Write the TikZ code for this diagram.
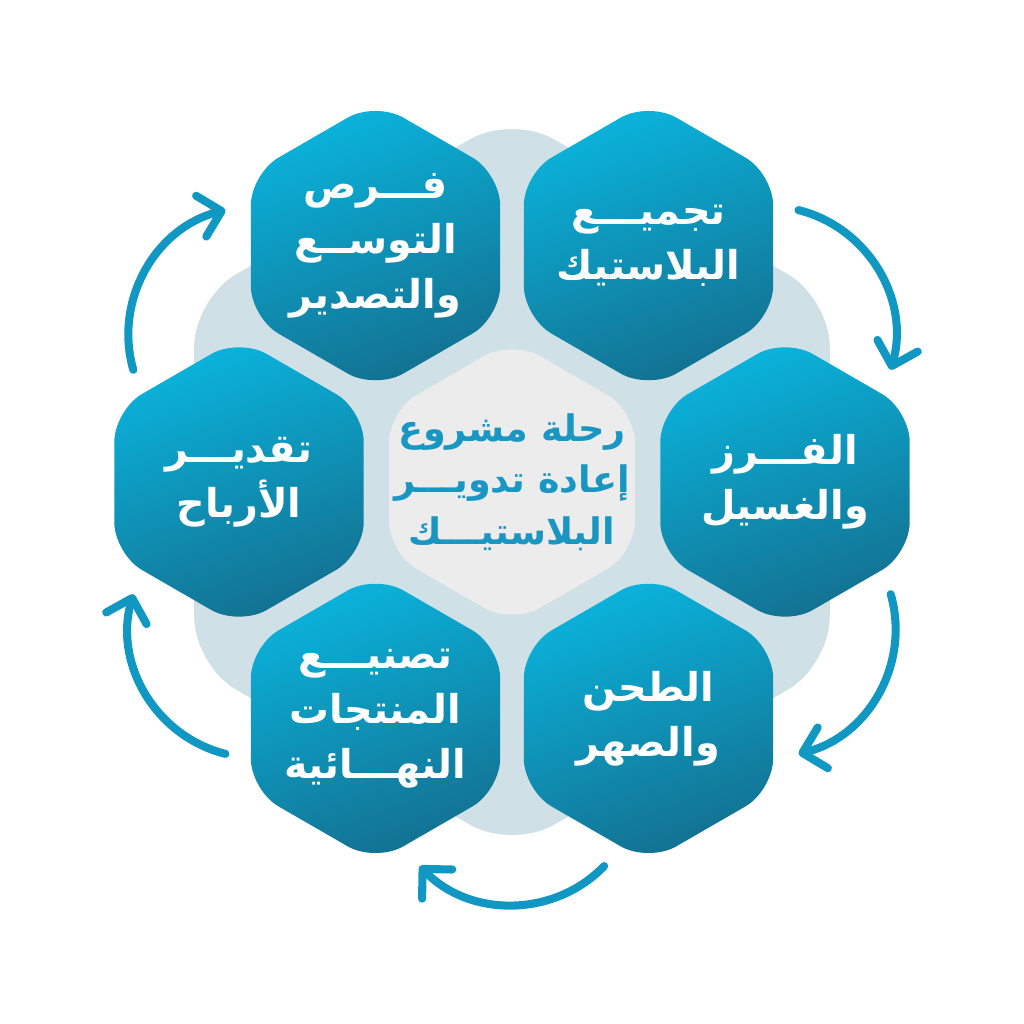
\documentclass[tikz,border=0pt]{standalone}
\usepackage{fontspec}
\usepackage{tikz}
\usetikzlibrary{shapes.geometric, arrows.meta, calc}
\TeXXeTstate=1
\newfontfamily\arabicfont[Script=Arabic]{DejaVu Sans}
\newcommand{\artext}[1]{\beginR #1\endR}

\definecolor{back-color}{RGB}{207,225,231}
\definecolor{core-color}{RGB}{236,236,237}
\definecolor{hex-top}{RGB}{10,180,221}
\definecolor{hex-bottom}{RGB}{19,112,144}
\definecolor{core-text}{RGB}{26,150,194}
\definecolor{flow-color}{RGB}{17,152,194}

\tikzset{
    hexbase/.style = {regular polygon, regular polygon sides=6, shape border rotate=30,
        inner sep=0pt, minimum size=#1, rounded corners=3.2mm},
    hexstep/.style = {hexbase=2.88cm, top color=hex-top, bottom color=hex-bottom, shading angle=20},
    hexcore/.style = {hexbase=2.84cm, fill=core-color},
    hexback/.style = {hexbase=7.34cm, rounded corners=4.8mm, fill=back-color},
    steptext/.style = {text=white, align=center, font=\arabicfont\bfseries\fontsize{11.3}{15.6}\selectfont},
    coretext/.style = {text=core-text, align=center, font=\arabicfont\bfseries\fontsize{10.4}{14.6}\selectfont},
    flow/.style = {draw=flow-color, line width=2.3pt, line cap=round,
        -{Straight Barb[length=2.1mm, width=4.2mm, round]}}
}

\begin{document}
\begin{tikzpicture}
\useasboundingbox (0,0) rectangle (10.24,10.24);
\coordinate (hub) at (5.12,5.42);

%backdrop
\node[hexback] (back) at (hub) {};

%core
\node[hexcore] (core) at (hub) {};
\node[coretext] (core-label) at (core) {\artext{رحلة مشروع}\\\artext{إعادة تدويـــر}\\\artext{البلاستيـــك}};

%collect
\node[hexstep] (collect) at (6.485,7.784) {};
\node[steptext] (collect-label) at (collect) {\artext{تجميـــع}\\\artext{البلاستيك}};

%sort and wash
\node[hexstep] (sort) at (7.85,5.42) {};
\node[steptext] (sort-label) at (sort) {\artext{الفـــرز}\\\artext{والغسيل}};

%grind and melt
\node[hexstep] (grind) at (6.485,3.056) {};
\node[steptext] (grind-label) at (grind) {\artext{الطحن}\\\artext{والصهر}};

%manufacture
\node[hexstep] (make) at (3.755,3.056) {};
\node[steptext] (make-label) at (make) {\artext{تصنيـــع}\\\artext{المنتجات}\\\artext{النهـــائية}};

%profits
\node[hexstep] (profit) at (2.39,5.42) {};
\node[steptext] (profit-label) at (profit) {\artext{تقديـــر}\\\artext{الأرباح}};

%expansion
\node[hexstep] (expand) at (3.755,7.784) {};
\node[steptext] (expand-label) at (expand) {\artext{فـــرص}\\\artext{التوســع}\\\artext{والتصدير}};

%arrows
\coordinate (collect-out) at ($(hub)+(43.5:3.95)$);
\coordinate (sort-in) at ($(hub)+(16.5:3.95)$);
\coordinate (sort-out) at ($(hub)+(-16.5:3.95)$);
\coordinate (grind-in) at ($(hub)+(-43.5:3.95)$);
\coordinate (grind-out) at ($(hub)+(-76.5:3.95)$);
\coordinate (make-in) at ($(hub)+(-103.5:3.95)$);
\coordinate (make-out) at ($(hub)+(-136.5:3.95)$);
\coordinate (profit-in) at ($(hub)+(-163.5:3.95)$);
\coordinate (profit-out) at ($(hub)+(163.5:3.95)$);
\coordinate (expand-in) at ($(hub)+(136.5:3.95)$);

\draw[flow] (collect-out) to[bend left=46] (sort-in);
\draw[flow] (sort-out) to[bend left=46] (grind-in);
\draw[flow] (grind-out) to[bend left=46] (make-in);
\draw[flow] (make-out) to[bend left=46] (profit-in);
\draw[flow] (profit-out) to[bend left=46] (expand-in);
\end{tikzpicture}
\end{document}
